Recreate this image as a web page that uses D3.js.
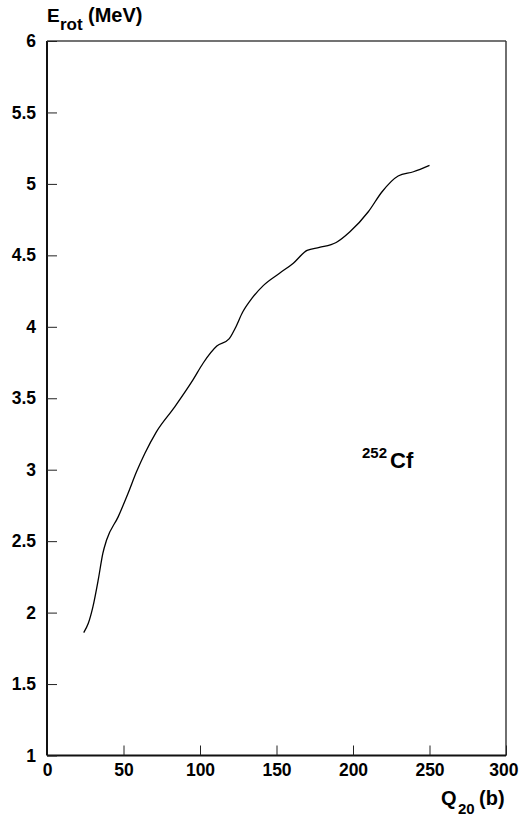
<!DOCTYPE html>
<html>
<head>
<meta charset="utf-8">
<script src="https://cdn.jsdelivr.net/npm/d3@7"></script>
<style>
  html, body { margin: 0; padding: 0; background: #fff; }
  svg { display: block; font-family: "Liberation Sans", Arial, Helvetica, sans-serif; font-weight: bold; }
</style>
</head>
<body>
<svg id="chart" width="519" height="816"></svg>
<script>
// Rotational energy of 252Cf along the fission path, vs quadrupole moment Q20
const q20 = [24, 27, 30, 33.5, 36.5, 39, 46.5, 53, 58.5, 64, 71.5, 83.5, 95.5, 102, 111, 119, 123, 128, 134, 141.5, 152, 161, 170, 178, 189, 198, 210, 219, 229.5, 239.5, 250];
const erot = [1.86, 1.925, 2.04, 2.23, 2.415, 2.51, 2.67, 2.835, 2.985, 3.115, 3.265, 3.44, 3.63, 3.745, 3.865, 3.915, 3.99, 4.105, 4.2, 4.29, 4.375, 4.445, 4.535, 4.555, 4.59, 4.665, 4.805, 4.945, 5.055, 5.085, 5.13];

const xTicks = [0, 50, 100, 150, 200, 250, 300];
const yTicks = [1, 1.5, 2, 2.5, 3, 3.5, 4, 4.5, 5, 5.5, 6];

const svg = d3.select("#chart");
const plotLeft = 47, plotRight = 506, plotTop = 41, plotBottom = 755.5;

const x = d3.scaleLinear().domain([0, 300]).range([plotLeft, plotRight]);
const y = d3.scaleLinear().domain([1, 6]).range([plotBottom, plotTop]);

// frame
svg.append("line").attr("x1", plotLeft).attr("x2", plotRight).attr("y1", plotTop).attr("y2", plotTop)
  .attr("stroke", "#444").attr("stroke-width", 1.4);
svg.append("line").attr("x1", plotRight).attr("x2", plotRight).attr("y1", plotTop).attr("y2", plotBottom)
  .attr("stroke", "#333").attr("stroke-width", 1.4);

// axes with inward ticks
const xAxis = d3.axisBottom(x).tickValues(xTicks).tickSize(-10).tickPadding(8)
  .tickFormat(d3.format("d"));
const yAxis = d3.axisLeft(y).tickValues(yTicks).tickSize(-10).tickPadding(11)
  .tickFormat(d => d3.format("")(d));

const gx = svg.append("g").attr("transform", `translate(0,${plotBottom})`).call(xAxis);
const gy = svg.append("g").attr("transform", `translate(${plotLeft},0)`).call(yAxis);

[gx, gy].forEach(g => {
  g.select(".domain").attr("stroke", "#111").attr("stroke-width", 2);
  g.selectAll(".tick line").attr("stroke", "#222").attr("stroke-width", 1);
  g.selectAll(".tick text").attr("fill", "#000")
    .style("font-family", "'Liberation Sans', Arial, sans-serif")
    .style("font-weight", "bold").style("font-size", "17.5px");
});
// keep the last x label inside the page
gx.selectAll(".tick text").filter(d => d === 300)
  .attr("text-anchor", "end").attr("x", 12);
gy.select(".domain").attr("d", `M0,${plotBottom}V${plotTop}`);
gx.select(".domain").attr("d", `M${plotLeft},0H${plotRight}`);

// curve
const line = d3.line()
  .x((d, i) => x(q20[i]))
  .y((d, i) => y(erot[i]))
  .curve(d3.curveMonotoneX);

svg.append("path")
  .datum(erot)
  .attr("d", line)
  .attr("fill", "none")
  .attr("stroke", "#000")
  .attr("stroke-width", 1.3);

// axis titles
const yTitle = svg.append("text").attr("fill", "#000");
yTitle.append("tspan").attr("x", 47).attr("y", 22).attr("font-size", 19).text("E");
yTitle.append("tspan").attr("x", 60).attr("y", 29.5).attr("font-size", 17).text("rot");
yTitle.append("tspan").attr("x", 88).attr("y", 22).attr("font-size", 20).text("(MeV)");

const xTitle = svg.append("text").attr("fill", "#000");
xTitle.append("tspan").attr("x", 441).attr("y", 805).attr("font-size", 20).text("Q");
xTitle.append("tspan").attr("x", 458).attr("y", 814).attr("font-size", 15).text("20");
xTitle.append("tspan").attr("x", 479).attr("y", 805).attr("font-size", 20).text("(b)");

// nucleus label
const nuc = svg.append("text").attr("fill", "#000");
nuc.append("tspan").attr("x", 362).attr("y", 458).attr("font-size", 15).text("252");
nuc.append("tspan").attr("x", 390).attr("y", 468).attr("font-size", 22).text("Cf");
</script>
</body>
</html>
